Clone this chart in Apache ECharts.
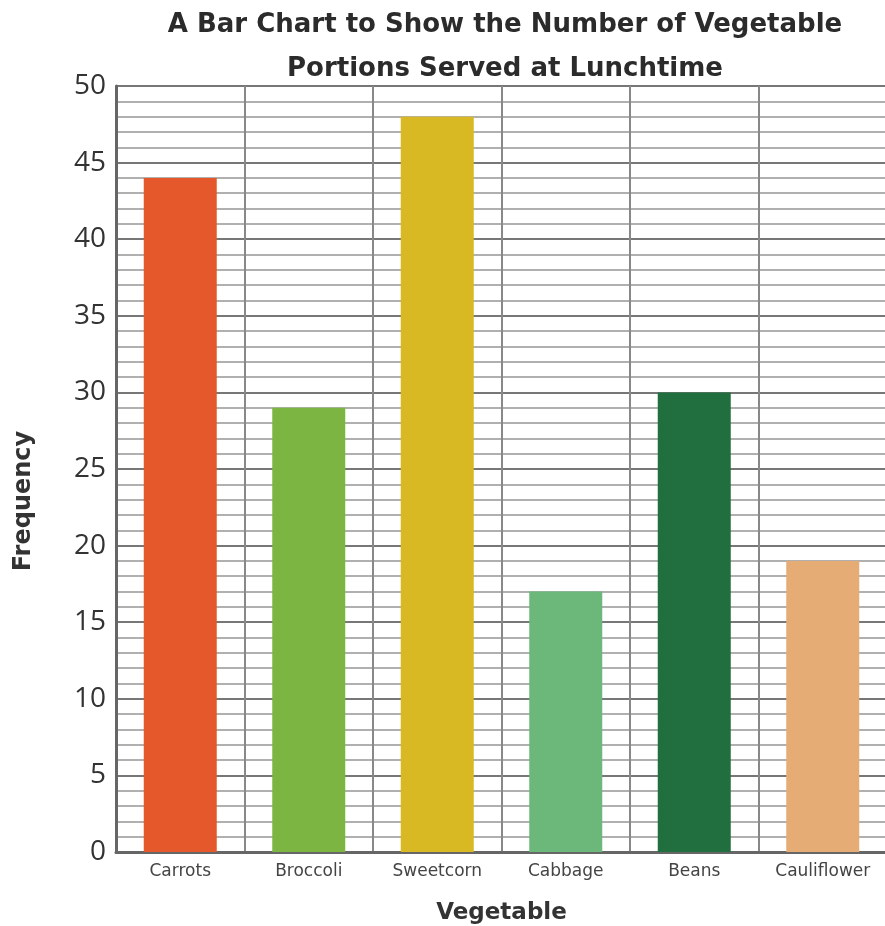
<!DOCTYPE html>
<html>
<head>
<meta charset="utf-8">
<script src="https://cdn.jsdelivr.net/npm/echarts@6/dist/echarts.min.js"></script>
<style>
  html, body { margin: 0; padding: 0; background: #fff; }
  #chart { width: 885px; height: 926px; }
</style>
</head>
<body>
<div id="chart"></div>
<script>
// vegetables and how many portions went out
var vegetables = ['Carrots', 'Broccoli', 'Sweetcorn', 'Cabbage', 'Beans', 'Cauliflower'];
var portions = [44, 29, 48, 17, 30, 19];
var barColors = ['#e5582b', '#7db543', '#d9b923', '#6bb87a', '#216e3e', '#e6ac75'];

var myChart = echarts.init(document.getElementById('chart'));

var option = {
  backgroundColor: '#ffffff',
  title: {
    text: 'A Bar Chart to Show the Number of Vegetable\nPortions Served at Lunchtime',
    left: 500,
    textAlign: 'center',
    top: -2,
    textStyle: {
      fontFamily: 'DejaVu Sans',
      fontWeight: 'bold',
      fontSize: 26,
      lineHeight: 44,
      color: '#2b2b2b'
    }
  },
  grid: {
    left: 116,
    top: 86,
    width: 771,
    height: 766,
    outerBoundsMode: 'none'
  },
  xAxis: {
    type: 'category',
    data: vegetables,
    name: 'Vegetable',
    nameLocation: 'middle',
    nameGap: 50,
    nameTextStyle: {
      fontFamily: 'DejaVu Sans',
      fontWeight: 'bold',
      fontSize: 23,
      color: '#333'
    },
    axisLine: { lineStyle: { color: '#666', width: 3 } },
    axisTick: { show: false },
    axisLabel: {
      fontFamily: 'DejaVu Sans',
      fontSize: 17,
      color: '#444',
      margin: 11
    },
    splitLine: {
      show: true,
      interval: 0,
      lineStyle: { color: '#888', width: 2 }
    }
  },
  yAxis: {
    type: 'value',
    min: 0,
    max: 50,
    interval: 5,
    name: 'Frequency',
    nameLocation: 'middle',
    nameGap: 80,
    nameTextStyle: {
      fontFamily: 'DejaVu Sans',
      fontWeight: 'bold',
      fontSize: 24,
      color: '#333',
      padding: [0, 64, 0, 0]
    },
    axisLine: { show: true, lineStyle: { color: '#666', width: 3 } },
    axisTick: { show: false },
    axisLabel: {
      fontFamily: 'Open Sans',
      fontSize: 28,
      color: '#333',
      margin: 10
    },
    splitLine: { lineStyle: { color: '#777', width: 2 } },
    minorTick: { show: false, splitNumber: 5 },
    minorSplitLine: { show: true, lineStyle: { color: '#b0b0b0', width: 2 } }
  },
  series: [
    {
      type: 'bar',
      barWidth: 73,
      data: portions.map(function (v, i) {
        return { value: v, itemStyle: { color: barColors[i] } };
      })
    }
  ]
};

option && myChart.setOption(option);
</script>
</body>
</html>
